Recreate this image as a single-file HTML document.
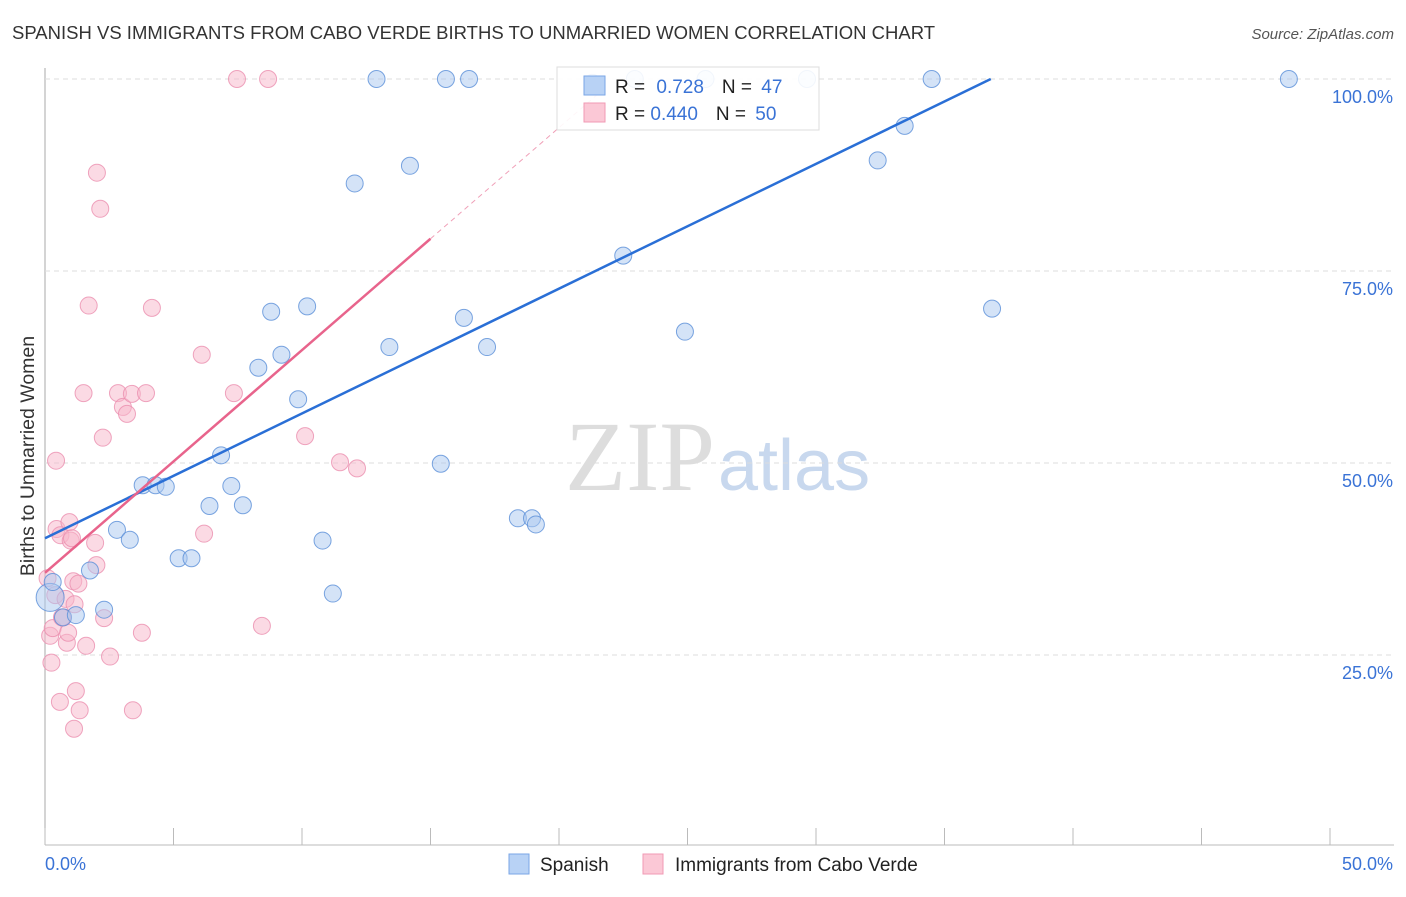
<!DOCTYPE html>
<html><head><meta charset="utf-8"><style>
body{margin:0;background:#fff;font-family:"Liberation Sans",sans-serif}
</style></head><body>
<svg width="1406" height="892" xmlns="http://www.w3.org/2000/svg" id="svg">
<text x="12" y="39" font-size="18.5" fill="#333">SPANISH VS IMMIGRANTS FROM CABO VERDE BIRTHS TO UNMARRIED WOMEN CORRELATION CHART</text>
<text x="1394" y="39" font-size="15" fill="#555" text-anchor="end" font-style="italic">Source: ZipAtlas.com</text>
<text transform="translate(34,456) rotate(-90)" font-size="19.5" fill="#333" text-anchor="middle">Births to Unmarried Women</text>
<text x="715" y="490" font-size="100" fill="#ddd" text-anchor="end" font-family="Liberation Serif">ZIP</text>
<text x="718" y="490" font-size="72" fill="#c8d8ee">atlas</text>
<g id="grid"></g><g id="pts"></g><g id="lines"></g>
<g>
<rect x="557" y="67" width="262" height="63" fill="#fff" fill-opacity="0.9" stroke="#ddd"/>
<rect x="584" y="76" width="21" height="19" fill="#b8d2f5" stroke="#7aa6e6"/>
<rect x="584" y="103" width="21" height="19" fill="#fbc8d6" stroke="#f09ab4"/>
<text x="615" y="93" font-size="19" fill="#222">R = <tspan fill="#3a73d6" dx="6">0.728</tspan><tspan fill="#222" dx="18">N = </tspan><tspan fill="#3a73d6" dx="4">47</tspan></text>
<text x="615" y="120" font-size="19" fill="#222">R = <tspan fill="#3a73d6">0.440</tspan><tspan fill="#222" dx="18">N = </tspan><tspan fill="#3a73d6" dx="4">50</tspan></text>
</g>
<g>
<rect x="509" y="854" width="20" height="20" fill="#b8d2f5" stroke="#7aa6e6"/>
<text x="540" y="871" font-size="19" fill="#222">Spanish</text>
<rect x="643" y="854" width="20" height="20" fill="#fbc8d6" stroke="#f09ab4"/>
<text x="675" y="871" font-size="19" fill="#222">Immigrants from Cabo Verde</text>
</g>
</svg>
<script>
const xTicks=[0,5,10,15,20,25,30,35,40,45,50];
const yTicks=[25,50,75,100];
const yTickLabels=["25.0%","50.0%","75.0%","100.0%"];
const blueX=[0.2,0.3,0.7,1.2,1.75,2.3,2.8,3.3,3.8,4.3,4.7,5.2,5.7,6.4,6.85,7.25,7.7,8.3,8.8,9.2,9.85,10.2,10.8,11.2,12.05,12.9,13.4,14.2,15.4,15.6,16.3,16.5,17.2,18.4,18.95,19.1,22.5,24.9,25.7,29.65,32.4,33.45,34.5,36.85,48.4,21.3,22.95];
const blueY=[32.5,34.5,29.9,30.2,36.0,30.9,41.3,40.0,47.1,47.1,46.9,37.6,37.6,44.4,51.0,47.0,44.5,62.4,69.7,64.1,58.3,70.4,39.9,33.0,86.4,100,65.1,88.7,49.9,100,68.9,100,65.1,42.8,42.8,42.0,77.0,67.1,100,100,89.4,93.9,100,70.1,100,99.5,100];
const pinkX=[0.1,0.2,0.25,0.3,0.4,0.45,0.6,0.7,0.8,0.85,0.9,0.95,1.0,1.05,1.1,1.15,1.2,1.3,1.35,1.5,1.6,1.7,1.95,2.0,2.02,2.15,2.25,2.3,2.53,2.84,3.03,3.19,3.38,3.77,3.93,3.42,4.16,6.1,6.19,7.35,7.47,8.44,8.68,10.12,11.48,12.14,1.13,0.58,0.43,0.66];
const pinkY=[35.0,27.5,24.0,28.5,32.8,41.4,40.6,29.9,32.3,26.6,27.9,42.3,39.9,40.2,34.6,31.6,20.3,34.3,17.8,59.1,26.2,70.5,39.6,36.7,87.8,83.1,53.3,29.8,24.8,59.1,57.3,56.4,59.0,27.9,59.1,17.8,70.2,64.1,40.8,59.1,100,28.8,100,53.5,50.1,49.3,15.4,18.9,50.3,29.9];
const S="http://www.w3.org/2000/svg";
const X=v=>45+v*25.7, Y=v=>847-v*7.68;
function mk(t,a,p){const e=document.createElementNS(S,t);for(const k in a)e.setAttribute(k,a[k]);p.appendChild(e);return e;}
const g=document.getElementById('grid');
const ax=mk('line',{x1:45,y1:68,x2:45,y2:845,stroke:'#aaa'},g);


const bx=mk('line',{x1:45,y1:845,x2:1394,y2:845,stroke:'#bbb'},g);


yTicks.forEach((t,i)=>{
 const l=mk('line',{x1:45,y1:Y(t),x2:1394,y2:Y(t),stroke:'#ddd','stroke-dasharray':'5,4'},g);
 
 
 const tx=mk('text',{x:1393,y:Y(t)+24,'font-size':18,fill:'#3a73d6','text-anchor':'end'},g);
 tx.textContent=yTickLabels[i];
 
 
});
xTicks.forEach(t=>{
 const l=mk('line',{x1:X(t),y1:828,x2:X(t),y2:845,stroke:'#bbb'},g);
 
 
});
const x0=mk('text',{x:45,y:870,'font-size':18,fill:'#3a73d6'},g);x0.textContent='0.0%';


const x1=mk('text',{x:1393,y:870,'font-size':18,fill:'#3a73d6','text-anchor':'end'},g);x1.textContent='50.0%';


const p=document.getElementById('pts');
pinkX.forEach((v,i)=>{const c=mk('circle',{cx:X(v),cy:Y(pinkY[i]),r:8.5,fill:'#f7b6c9','fill-opacity':0.5,stroke:'#eb8faf','stroke-opacity':0.8},p);
 
 });
blueX.forEach((v,i)=>{const c=mk('circle',{cx:X(v),cy:Y(blueY[i]),r:i==0?14:8.5,fill:'#aac8f0','fill-opacity':0.5,stroke:'#5a8fd8','stroke-opacity':0.8},p);
 
 });
const L=document.getElementById('lines');
const bl=mk('line',{x1:X(0),y1:Y(40.2),x2:X(36.8),y2:Y(100),stroke:'#2a6fd6','stroke-width':2.5},L);


const pl=mk('line',{x1:X(0),y1:Y(35.7),x2:X(15),y2:Y(79.2),stroke:'#e8648c','stroke-width':2.5},L);


const pd=mk('line',{x1:X(15),y1:Y(79.2),x2:X(21.5),y2:Y(98),stroke:'#f0a0b8','stroke-width':1,'stroke-dasharray':'5,4'},L);


</script>
</body></html>
